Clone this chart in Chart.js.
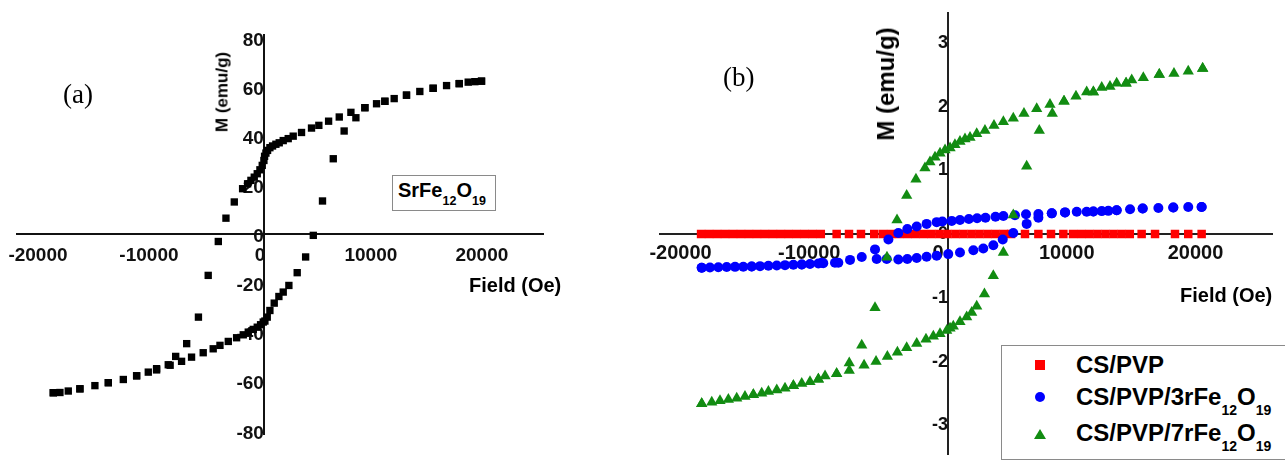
<!DOCTYPE html>
<html><head><meta charset="utf-8">
<script src="https://cdn.jsdelivr.net/npm/chart.js@4"></script>
<style>
html,body{margin:0;padding:0;background:#fff;}
#wrap{position:relative;width:1285px;height:465px;overflow:hidden;font-family:"Liberation Sans",Arial,sans-serif;color:#000;}
canvas{position:absolute;top:0;}
.t{position:absolute;white-space:nowrap;line-height:1;font-weight:bold;}
.serif{position:absolute;white-space:nowrap;line-height:1;font-family:"Liberation Serif","Times New Roman",serif;font-size:27px;}
.sub{position:relative;}
.box{position:absolute;box-sizing:border-box;border:1px solid #8a8a8a;background:#fff;}
</style></head>
<body>
<div id="wrap">
<canvas id="ca" width="620" height="465" style="left:0px"></canvas>
<canvas id="cb" width="655" height="465" style="left:630px"></canvas>

<div class="serif" style="left:63px;top:81px;">(a)</div>
<div class="serif" style="left:723px;top:64px;">(b)</div>

<div class="t" style="left:469px;top:275px;font-size:20px;">Field (Oe)</div>
<div class="t" style="left:1180px;top:285px;font-size:20px;">Field (Oe)</div>

<div class="t" style="left:222px;top:92px;font-size:17px;transform:translate(-50%,-50%) rotate(-90deg);">M (emu/g)</div>
<div class="t" style="left:886px;top:84px;font-size:24px;transform:translate(-50%,-50%) rotate(-90deg);">M (emu/g)</div>

<div class="box" style="left:392px;top:175px;width:104px;height:36px;"></div>
<div class="t" style="left:398px;top:180px;font-size:20px;">SrFe<span class="sub" style="font-size:12.5px;top:8px;">12</span>O<span class="sub" style="font-size:12.5px;top:8px;">19</span></div>

<div class="box" style="left:1001px;top:345px;width:320px;height:115px;border-width:1.5px;"></div>
<div style="position:absolute;left:1035px;top:360px;width:10px;height:10px;background:#ff0000;"></div>
<div style="position:absolute;left:1035px;top:392px;width:10px;height:10px;border-radius:50%;background:#0000ff;"></div>
<div style="position:absolute;left:1034px;top:429px;width:0;height:0;border-left:6px solid transparent;border-right:6px solid transparent;border-bottom:10px solid #128c12;"></div>
<div class="t" style="left:1076px;top:353px;font-size:24px;">CS/PVP</div>
<div class="t" style="left:1076px;top:385px;font-size:24px;">CS/PVP/3rFe<span class="sub" style="font-size:14px;top:10px;">12</span>O<span class="sub" style="font-size:14px;top:10px;">19</span></div>
<div class="t" style="left:1076px;top:421px;font-size:24px;">CS/PVP/7rFe<span class="sub" style="font-size:14px;top:10px;">12</span>O<span class="sub" style="font-size:14px;top:10px;">19</span></div>
</div>

<script>
// ---------- tick labels ----------
const fieldTicks = [-20000, -10000, 0, 10000, 20000];
const mTicksA = [-80, -60, -40, -20, 0, 20, 40, 60, 80];
const mTicksB = [-3, -2, -1, 0, 1, 2, 3];

// ---------- panel (a): SrFe12O19 ----------
const aDescH = [19610,19010,18410,17600,16460,15250,14050,12850,11740,10900,10150,9100,7840,6790,5830,4950,4290,3390,2640,2190,1740,1380,1080,780,540,330,180,60,0,-150,-360,-600,-870,-1170,-1470,-1920,-2670,-3420,-4110,-5020,-5900,-6960,-7950,-8620,-9670,-10420,-11470,-12670,-14020,-15230,-16580,-17630,-18380,-18980];
const aDescM = [62.2,62.0,61.8,61.2,60.4,59.3,58.0,56.5,55.1,54.0,53.0,51.4,49.5,47.6,45.9,44.2,43.1,41.3,39.8,38.8,38.0,37.1,36.5,35.8,35.1,34.0,32.9,31.6,29.9,27.9,26.1,24.5,23.1,21.8,20.4,18.4,13.0,6.4,-3.1,-16.9,-33.9,-44.7,-49.9,-53.3,-54.9,-56.3,-57.8,-59.3,-60.6,-61.8,-63.1,-64.0,-64.6,-64.7];
const aAscH = [-18980,-16580,-14020,-11470,-9670,-8450,-7420,-6520,-5470,-4570,-3960,-3210,-2460,-1860,-1410,-960,-600,-300,-60,90,300,540,930,1350,1740,2250,3000,3760,4450,5280,6250,7230,8290,9100,10900,12850,15250,17600,19610];
const aAscM = [-64.7,-63.1,-60.6,-57.8,-55.4,-53.5,-51.9,-50.2,-48.4,-46.8,-45.4,-43.8,-42.3,-41.1,-40.0,-38.9,-38.0,-37.0,-35.9,-35.5,-33.9,-31.2,-28.2,-25.5,-23.7,-21.0,-15.8,-9.4,-0.6,13.4,30.6,41.9,47.3,51.4,54.0,56.5,59.3,61.2,62.2];

// ---------- panel (b) ----------
const pvpH = [-19180,-18560,-17940,-17320,-16700,-16080,-15460,-14840,-14220,-13600,-12980,-12360,-11740,-11120,-10500,-9880,-8650,-7690,-6760,-5730,-5050,-4420,-3800,-3170,-2550,-1920,-1300,-670,-50,580,1200,1830,2450,3080,3700,4330,4900,5980,7020,8000,8960,9710,10340,10970,11600,12230,12860,13490,14120,15040,16080,17630,18660,19700];
const pvpM = [0,0,0,0,0,0,0,0,0,0,0,0,0,0,0,0,0,0,0,0,0,0,0,0,0,0,0,0,0,0,0,0,0,0,0,0,0,0,0,0,0,0,0,0,0,0,0,0,0,0,0,0,0,0];

const s3DescH = [19700,18660,17500,16340,15120,14140,13100,12450,11940,11290,10770,10000,9090,8060,7020,6060,5200,4300,3690,2910,2260,1620,930,290,-440,-880,-1660,-2430,-3160,-3860,-4630,-5670,-6700,-7610,-8520,-9690,-10070,-10720,-11360,-12010,-12660,-13300,-13950,-14600,-15250,-15900,-16540,-17190,-17840,-18490,-19130];
const s3DescM = [0.426,0.426,0.416,0.41,0.40,0.39,0.375,0.364,0.36,0.355,0.35,0.35,0.34,0.325,0.314,0.31,0.294,0.283,0.273,0.257,0.248,0.237,0.222,0.207,0.198,0.187,0.16,0.12,0.08,0.018,-0.084,-0.24,-0.36,-0.405,-0.45,-0.456,-0.46,-0.468,-0.477,-0.482,-0.487,-0.493,-0.498,-0.503,-0.508,-0.511,-0.514,-0.517,-0.52,-0.524,-0.528];
const s3AscH = [-19130,-15250,-11360,-9810,-8780,-5540,-4760,-3860,-3160,-2430,-1660,-880,20,930,1970,2740,3520,4250,5070,6110,7020,8060,9090,11290,13100,15120,17500,19700];
const s3AscM = [-0.528,-0.508,-0.477,-0.45,-0.45,-0.39,-0.39,-0.40,-0.39,-0.375,-0.355,-0.34,-0.314,-0.288,-0.253,-0.227,-0.176,-0.084,0.018,0.16,0.257,0.325,0.34,0.355,0.375,0.40,0.416,0.426];

const s7DescH = [19780,18660,17550,16410,15170,14270,13830,13100,12580,11940,11290,10770,9940,9010,7920,6890,5900,5070,4300,3570,2870,2230,1710,1320,930,540,160,-230,-620,-1010,-1400,-1790,-2490,-3210,-3960,-4740,-5670,-6700,-7670,-8650,-9550,-10070,-10720,-11360,-12010,-12660,-13300,-13950,-14470,-15120,-15770,-16410,-17060,-17710,-18350,-19130];
const s7DescM = [2.595,2.553,2.518,2.503,2.452,2.415,2.365,2.365,2.314,2.299,2.227,2.227,2.161,2.085,2.033,1.967,1.89,1.818,1.763,1.702,1.626,1.574,1.515,1.49,1.45,1.40,1.35,1.319,1.267,1.206,1.13,1.038,0.86,0.605,0.222,-0.365,-1.156,-1.742,-2.02,-2.19,-2.227,-2.278,-2.314,-2.345,-2.38,-2.416,-2.447,-2.467,-2.498,-2.518,-2.549,-2.574,-2.594,-2.615,-2.636,-2.66];
const s7AscH = [-19130,-15120,-12010,-10070,-8650,-7670,-6520,-5590,-4710,-3930,-3210,-2430,-1710,-1140,-620,-100,160,410,930,1450,1840,2230,2830,3520,4300,5070,6110,7090,8100,9010,11290,13830,16410,19780];
const s7AscM = [-2.66,-2.518,-2.38,-2.278,-2.19,-2.14,-2.059,-1.998,-1.921,-1.855,-1.783,-1.717,-1.65,-1.604,-1.564,-1.512,-1.477,-1.447,-1.375,-1.30,-1.23,-1.13,-0.94,-0.655,-0.29,0.298,1.064,1.626,1.89,2.085,2.227,2.365,2.503,2.595];

const zip = (xs, ys) => xs.map((x, i) => ({x: x, y: ys[i]}));

function scaleOpts(min, max, ticks, size, labelOffset, padding, pos, color) {
  return {
    type: 'linear', min: min, max: max, position: pos,
    afterBuildTicks: s => { s.ticks = ticks.map(v => ({value: v})); },
    grid: {display: false, drawTicks: false},
    border: {display: true, color: color, width: 2},
    ticks: {autoSkip: false, maxRotation: 0, minRotation: 0, padding: padding, labelOffset: labelOffset,
      color: '#111', font: {family: 'Liberation Sans', size: size, weight: 'bold'},
      callback: v => String(v)}
  };
}

function ds(label, data, style, r, color, order) {
  return {label: label, data: data, showLine: false, pointStyle: style, pointRadius: r, pointHoverRadius: r,
    backgroundColor: color, borderColor: color, pointBorderWidth: 0, borderWidth: 0, order: order};
}

const common = {
  responsive: false, maintainAspectRatio: false, animation: false, devicePixelRatio: 1, events: [],
  plugins: {legend: {display: false}, tooltip: {enabled: false}, title: {display: false}}
};

new Chart(document.getElementById('ca'), {
  type: 'scatter',
  data: {datasets: [
    ds('SrFe12O19 desc', zip(aDescH, aDescM), 'rect', 5.2, '#000', 0),
    ds('SrFe12O19 asc', zip(aAscH, aAscM), 'rect', 5.2, '#000', 0)
  ]},
  options: Object.assign({}, common, {
    layout: {padding: {left: 17, right: 77, top: 35, bottom: 31}, autoPadding: false},
    scales: {
      x: scaleOpts(-22250, 25150, fieldTicks, 19, -4, 10, {y: 0}, '#111'),
      y: scaleOpts(-81.5, 81, mTicksA, 19, 3, 0, {x: 0}, '#111')
    }
  })
});

new Chart(document.getElementById('cb'), {
  type: 'scatter',
  data: {datasets: [
    ds('CS/PVP', zip(pvpH, pvpM), 'rect', 6, '#ff0000', 3),
    ds('CS/PVP/3rFe12O19 desc', zip(s3DescH, s3DescM), 'circle', 5, '#0000ff', 2),
    ds('CS/PVP/3rFe12O19 asc', zip(s3AscH, s3AscM), 'circle', 5, '#0000ff', 2),
    ds('CS/PVP/7rFe12O19 desc', zip(s7DescH, s7DescM), 'triangle', 6.5, '#128c12', 1),
    ds('CS/PVP/7rFe12O19 asc', zip(s7AscH, s7AscM), 'triangle', 6.5, '#128c12', 1)
  ]},
  options: Object.assign({}, common, {
    layout: {padding: {left: 30, right: 13, top: 13, bottom: 0}, autoPadding: false},
    scales: {
      x: scaleOpts(-22370, 25165, fieldTicks, 20, -10, 7, {y: 0}, '#222'),
      y: scaleOpts(-3.452, 3.467, mTicksB, 18, 0, 0, {x: 0}, '#222')
    }
  })
});
</script>
</body></html>
